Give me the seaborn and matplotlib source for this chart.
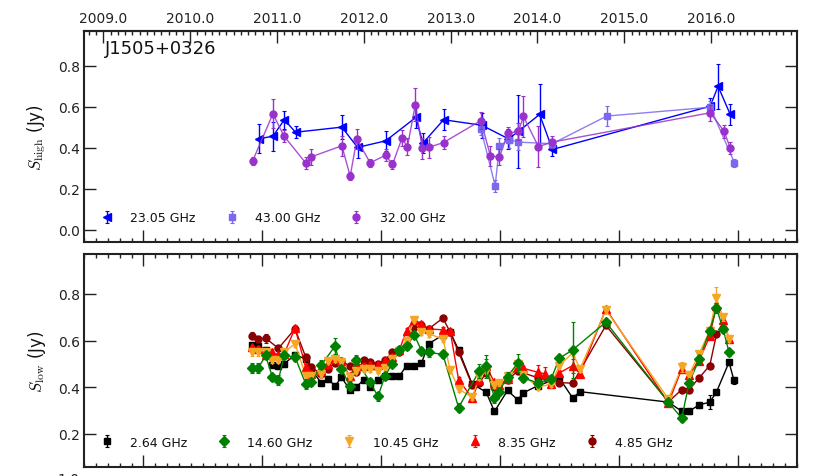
import numpy as np
import pandas as pd
import matplotlib
matplotlib.use("Agg")
import matplotlib.pyplot as plt
from matplotlib.ticker import MultipleLocator, FormatStrFormatter, FixedLocator
import seaborn as sns

# ---------------- data (MJD, flux density [Jy], error [Jy]) ----------------
source_name = "J1505+0326"

high_23 = [(55487, .444, .07), (55545, .457, .07), (55593, .537, .045), (55640, .476, .03),
           (55835, .501, .06), (55901, .402, .05), (56019, .434, .05), (56146, .548, .05),
           (56176, .423, .05), (56263, .537, .05), (56424, .510, .06), (56536, .444, .05),
           (56578, .480, .18), (56667, .563, .15), (56721, .392, .03), (57385, .603, .04),
           (57418, .700, .11), (57469, .563, .05)]
high_43 = [(56420, .493, .03), (56480, .215, .03), (56498, .410, .04), (56539, .440, .04),
           (56578, .428, .04), (56720, .420, .02), (56950, .555, .05), (57385, .598, .03),
           (57487, .327, .02)]
high_32 = [(55459, .335, .02), (55545, .566, .07), (55591, .458, .03), (55683, .326, .03),
           (55706, .356, .04), (55835, .410, .05), (55870, .262, .02), (55898, .442, .05),
           (55954, .327, .02), (56019, .364, .03), (56048, .319, .02), (56088, .447, .04),
           (56111, .406, .04), (56144, .611, .08), (56173, .398, .05), (56200, .402, .05),
           (56263, .426, .03), (56420, .533, .04), (56460, .360, .05), (56498, .356, .04),
           (56534, .472, .03), (56578, .480, .04), (56599, .553, .10), (56662, .406, .10),
           (56720, .428, .03), (57385, .571, .04), (57444, .480, .03), (57469, .398, .03)]

low_264 = [(55455, .581, .012), (55484, .576, .012), (55514, .561, .012), (55543, .497, .012),
           (55568, .490, .012), (55592, .500, .012), (55638, .539, .012), (55683, .521, .012),
           (55707, .476, .012), (55749, .417, .012), (55778, .436, .012), (55806, .404, .012),
           (55833, .443, .012), (55868, .390, .012), (55896, .400, .012), (55927, .433, .012),
           (55952, .403, .012), (55987, .431, .012), (56016, .446, .012), (56046, .447, .012),
           (56077, .447, .012), (56107, .493, .012), (56140, .493, .012), (56170, .503, .012),
           (56200, .586, .012), (56260, .624, .012), (56291, .636, .012), (56326, .560, .012),
           (56383, .414, .012), (56442, .379, .012), (56477, .296, .012), (56532, .386, .012),
           (56575, .346, .012), (56599, .376, .012), (56660, .407, .012), (56750, .439, .012),
           (56806, .354, .012), (56837, .381, .012), (57209, .336, .012), (57265, .297, .012),
           (57296, .297, .012), (57338, .324, .012), (57383, .336, .030), (57411, .379, .012),
           (57464, .507, .012), (57485, .429, .015)]
low_1460 = [(55455, .483, .02), (55484, .483, .02), (55514, .536, .015), (55543, .443, .015),
            (55568, .431, .02), (55592, .536, .015), (55638, .529, .015), (55683, .414, .02),
            (55707, .421, .015), (55749, .496, .02), (55806, .576, .035), (55833, .479, .015),
            (55868, .407, .02), (55896, .517, .02), (55952, .424, .015), (55987, .361, .02),
            (56016, .447, .015), (56046, .500, .015), (56077, .561, .015), (56107, .576, .015),
            (56140, .624, .015), (56170, .556, .015), (56200, .549, .02), (56260, .541, .015),
            (56326, .313, .02), (56414, .471, .03), (56442, .490, .05), (56477, .353, .02),
            (56495, .380, .015), (56532, .444, .02), (56575, .504, .04), (56599, .439, .015),
            (56660, .419, .015), (56716, .437, .015), (56750, .524, .015), (56806, .560, .12),
            (56946, .679, .015), (57209, .336, .015), (57265, .267, .015), (57296, .419, .015),
            (57338, .519, .02), (57383, .643, .015), (57411, .739, .02), (57439, .650, .015),
            (57464, .550, .015)]
low_1045 = [(55455, .550, .015), (55484, .550, .015), (55514, .550, .012), (55543, .517, .012),
            (55568, .517, .012), (55592, .550, .012), (55638, .586, .012), (55683, .450, .015),
            (55707, .450, .012), (55749, .457, .012), (55778, .514, .012), (55806, .521, .012),
            (55833, .510, .012), (55868, .443, .012), (55896, .471, .012), (55927, .479, .012),
            (55952, .479, .012), (55987, .471, .012), (56016, .483, .012), (56046, .521, .012),
            (56077, .557, .012), (56107, .600, .012), (56140, .690, .012), (56170, .636, .012),
            (56200, .629, .012), (56260, .607, .012), (56291, .474, .012), (56326, .393, .012),
            (56383, .357, .012), (56414, .443, .012), (56442, .471, .012), (56477, .410, .012),
            (56495, .417, .012), (56532, .450, .012), (56575, .500, .012), (56599, .453, .012),
            (56660, .400, .012), (56716, .414, .012), (56750, .493, .012), (56806, .547, .012),
            (56837, .479, .012), (56946, .731, .012), (57209, .350, .012), (57265, .486, .02),
            (57296, .453, .012), (57338, .543, .012), (57383, .643, .012), (57411, .781, .05),
            (57439, .700, .015), (57464, .607, .012)]
low_835 = [(55455, .571, .012), (55484, .564, .012), (55514, .540, .012), (55543, .550, .012),
           (55568, .536, .012), (55592, .543, .012), (55638, .653, .012), (55683, .486, .012),
           (55707, .457, .012), (55749, .471, .012), (55778, .500, .012), (55806, .521, .012),
           (55833, .514, .012), (55868, .447, .012), (55896, .500, .012), (55927, .493, .012),
           (55952, .496, .012), (55987, .496, .012), (56016, .514, .012), (56046, .529, .012),
           (56077, .560, .012), (56107, .643, .012), (56140, .690, .012), (56170, .671, .012),
           (56200, .650, .012), (56260, .646, .012), (56291, .639, .012), (56326, .433, .012),
           (56383, .353, .012), (56414, .429, .012), (56442, .490, .03), (56477, .421, .012),
           (56495, .410, .012), (56532, .436, .012), (56575, .486, .012), (56599, .481, .012),
           (56660, .464, .03), (56690, .457, .03), (56716, .414, .012), (56750, .461, .012),
           (56806, .493, .03), (56837, .457, .012), (56946, .736, .012), (57209, .333, .012),
           (57265, .479, .012), (57296, .453, .012), (57338, .514, .012), (57383, .619, .012),
           (57411, .750, .012), (57439, .686, .012), (57464, .607, .012)]
low_485 = [(55455, .621, .015), (55484, .607, .012), (55514, .610, .02), (55568, .567, .012),
           (55638, .650, .012), (55683, .529, .012), (55707, .486, .012), (55749, .455, .012),
           (55778, .480, .012), (55806, .505, .012), (55833, .514, .012), (55868, .490, .012),
           (55896, .465, .012), (55927, .516, .012), (55952, .510, .012), (55987, .500, .012),
           (56016, .515, .012), (56046, .550, .012), (56077, .550, .012), (56107, .580, .012),
           (56140, .660, .012), (56170, .665, .012), (56200, .650, .012), (56260, .696, .012),
           (56291, .636, .012), (56326, .550, .012), (56383, .410, .012), (56414, .420, .012),
           (56442, .460, .012), (56477, .400, .012), (56532, .430, .012), (56575, .470, .012),
           (56660, .440, .012), (56750, .420, .012), (56806, .417, .012), (56946, .665, .012),
           (57209, .337, .012), (57265, .390, .012), (57296, .390, .012), (57338, .440, .012),
           (57383, .493, .012), (57411, .626, .012), (57439, .655, .012)]

high_labels = ["23.05 GHz", "43.00 GHz", "32.00 GHz"]
low_labels = ["2.64 GHz", "14.60 GHz", "10.45 GHz", "8.35 GHz", "4.85 GHz"]
year_ticks = [2009, 2010, 2011, 2012, 2013, 2014, 2015, 2016]

# ---------------- style ----------------
sns.set_theme(style="ticks")
plt.rcParams.update({
    "font.family": ["DejaVu Sans"],
    "mathtext.fontset": "cm",
    "axes.edgecolor": "#222222",
    "axes.linewidth": 1.5,
    "xtick.color": "#222222",
    "ytick.color": "#222222",
    "text.color": "#111111",
    "axes.labelcolor": "#111111",
})

W, H = 831, 477
fig = plt.figure(figsize=(W / 100, H / 100), dpi=100)
left, width = 84 / W, 713 / W
ax1 = fig.add_axes([left, (H - 243) / H, width, (243 - 31.7) / H])
ax2 = fig.add_axes([left, (H - 468) / H, width, (468 - 255) / H])
ax3 = fig.add_axes([left, (H - 479) / H - 0.44, width, 0.44])

XLIM = (54750, 57750)


def draw(ax, rows, color, marker, label, ms, z, line_alpha=1.0):
    df = pd.DataFrame(rows, columns=["mjd", "flux", "err"])
    sns.lineplot(data=df, x="mjd", y="flux", ax=ax, color=color, linewidth=1.0,
                 sort=False, estimator=None, legend=False, zorder=z, alpha=line_alpha)
    h = ax.errorbar(df["mjd"], df["flux"], yerr=df["err"], fmt=marker, color=color,
                    ms=ms, elinewidth=1.0, capsize=1.2, capthick=0.8, label=label,
                    zorder=z + 0.1)
    return h


hh = []
hh.append(draw(ax1, high_23, "#0000FF", "<", high_labels[0], 6, 2.0))
hh.append(draw(ax1, high_43, "#7B68EE", "s", high_labels[1], 4.8, 2.2, 0.85))
hh.append(draw(ax1, high_32, "#9932CC", "o", high_labels[2], 5, 2.4, 0.85))

hl = []
hl.append(draw(ax2, low_264, "black", "s", low_labels[0], 4.8, 2.0))
hl.append(draw(ax2, low_1460, "green", "D", low_labels[1], 4.8, 2.8))
hl.append(draw(ax2, low_1045, "#F5A623", "v", low_labels[2], 6, 2.6))
hl.append(draw(ax2, low_835, "red", "^", low_labels[3], 6, 2.4))
hl.append(draw(ax2, low_485, "#8B0000", "o", low_labels[4], 5, 2.2))

for ax in (ax1, ax2):
    ax.set_xlim(*XLIM)
    ax.xaxis.set_major_locator(MultipleLocator(500))
    ax.xaxis.set_minor_locator(MultipleLocator(50))
    ax.yaxis.set_major_locator(MultipleLocator(0.2))
    ax.yaxis.set_major_formatter(FormatStrFormatter("%.1f"))
    ax.tick_params(which="major", direction="in", length=8.5, width=1.0, labelsize=10, pad=3)
    ax.tick_params(which="minor", direction="in", length=3, width=1.0)
    ax.tick_params(axis="x", which="both", labelbottom=False, bottom=True)
    ax.tick_params(axis="y", which="both", left=True, right=True)
    ax.set_xlabel("")
    for s in ax.spines.values():
        s.set_visible(True)
        s.set_linewidth(1.5)

ax1.tick_params(axis="x", which="both", top=False)
ax2.tick_params(axis="x", which="both", top=True)

ax1.set_ylim(-0.059, 0.971)
ax2.set_ylim(0.058, 0.971)
ax1.set_ylabel(r"$S_\mathrm{high}$ (Jy)", fontsize=12)
ax2.set_ylabel(r"$S_\mathrm{low}$ (Jy)", fontsize=12)
ax1.yaxis.set_label_coords(-0.05, 0.5)
ax2.yaxis.set_label_coords(-0.05, 0.5)


def mjd2yr(m):
    return 2000.0 + (np.asarray(m, dtype=float) - 51544.5) / 365.25


def yr2mjd(y):
    return 51544.5 + (np.asarray(y, dtype=float) - 2000.0) * 365.25


sec = ax1.secondary_xaxis("top", functions=(mjd2yr, yr2mjd))
sec.xaxis.set_major_locator(FixedLocator(year_ticks))
sec.xaxis.set_minor_locator(MultipleLocator(1 / 12))
sec.xaxis.set_major_formatter(FormatStrFormatter("%.1f"))
sec.tick_params(which="major", direction="in", length=8.5, width=1.0, labelsize=10, pad=4)
sec.tick_params(which="minor", direction="in", length=3, width=1.0)

ax1.text(0.029, 0.918, source_name, transform=ax1.transAxes, fontsize=13,
         ha="left", va="center")

ax1.legend(handles=hh, loc="center left", bbox_to_anchor=(0.012, 0.114), ncol=3,
           frameon=False, fontsize=9, handlelength=1.5, handletextpad=1.1,
           columnspacing=2.15, borderaxespad=0, numpoints=1)
ax2.legend(handles=hl, loc="center left", bbox_to_anchor=(0.012, 0.117), ncol=5,
           frameon=False, fontsize=9, handlelength=1.5, handletextpad=1.1,
           columnspacing=2.2, borderaxespad=0, numpoints=1)

# third (cut-off) panel below: only its top tick label peeks into view, as in the reference
ax3.set_xlim(*XLIM)
ax3.set_ylim(0.0, 1.0)
ax3.yaxis.set_major_locator(FixedLocator([1.0]))
ax3.yaxis.set_major_formatter(FormatStrFormatter("%.1f"))
ax3.tick_params(axis="y", direction="in", length=8.5, labelsize=10, pad=3)
ax3.set_xticks([])

fig.savefig("out.png", dpi=100)
